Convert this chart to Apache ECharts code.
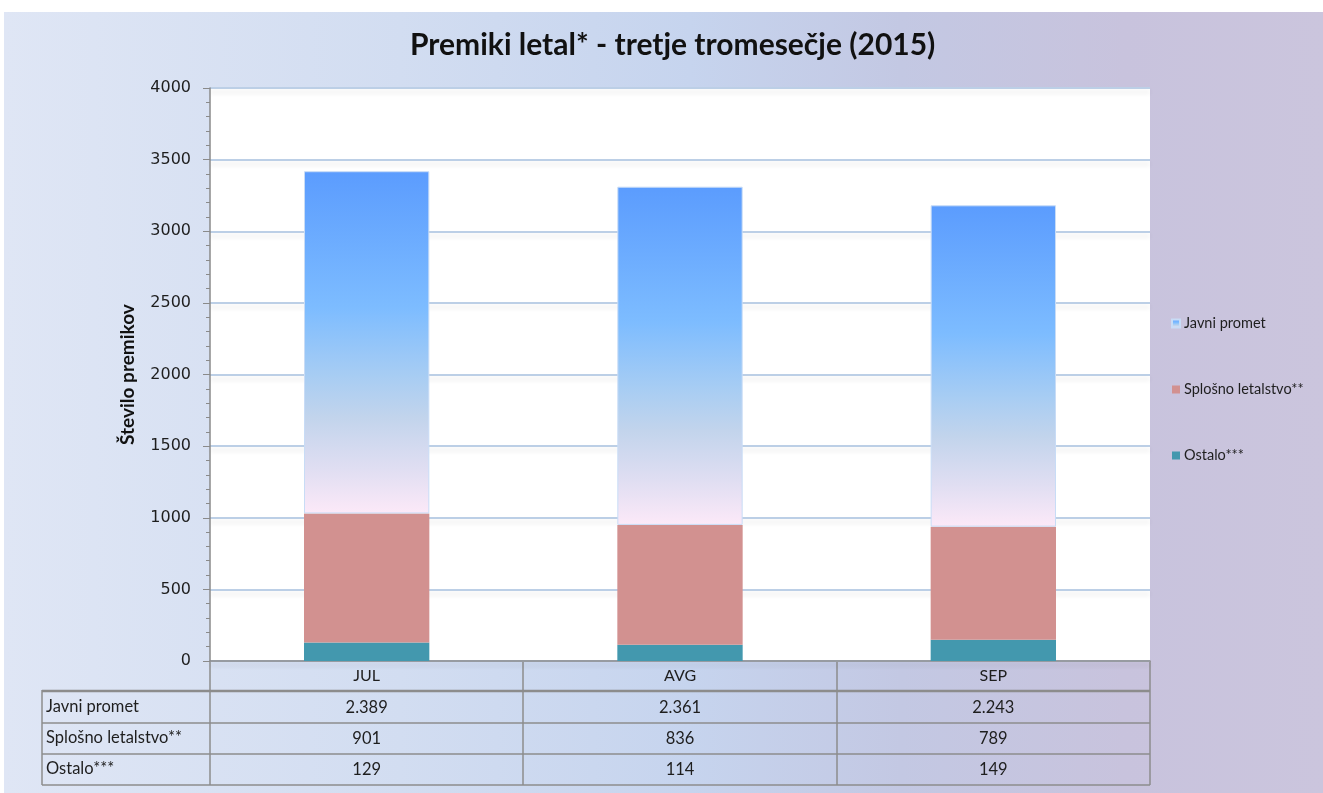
<!DOCTYPE html>
<html>
<head>
<meta charset="utf-8">
<script src="https://cdn.jsdelivr.net/npm/echarts@6/dist/echarts.min.js"></script>
<style>
  html, body { margin: 0; padding: 0; background: #fff; }
  #wrap { position: relative; width: 1323px; height: 793px; }
  #bg {
    position: absolute; left: 4px; top: 12px; right: 0; bottom: 0;
    background: linear-gradient(to right, #dfe6f5 0%, #d2ddf1 30%, #c6d4ee 52%, #c3c8e3 68%, #c8c3dd 85%, #cbc5dd 100%);
  }
  #chart { position: absolute; left: 0; top: 0; width: 1323px; height: 793px; }
</style>
</head>
<body>
<div id="wrap">
  <div id="bg"></div>
  <div id="chart"></div>
</div>
<script>
// chart data
const months = ['JUL', 'AVG', 'SEP'];
const javniPromet = [2389, 2361, 2243];
const splosnoLetalstvo = [901, 836, 789];
const ostalo = [129, 114, 149];
const seriesNames = ['Javni promet', 'Splošno letalstvo**', 'Ostalo***'];
const tableRows = [javniPromet, splosnoLetalstvo, ostalo];

// layout
const gridLeft = 210, gridRight = 1150, gridTop = 88, gridBottom = 661;
const rowH = 31;
const tableLeft = 42;

const chart = echarts.init(document.getElementById('chart'));

// thousands separator with a dot, as in the source
const fmt = v => v >= 1000 ? Math.floor(v / 1000) + '.' + String(v % 1000).padStart(3, '0') : String(v);

const javniColor = new echarts.graphic.LinearGradient(0, 0, 0, 1, [
  { offset: 0, color: '#5b9cfe' },
  { offset: 0.4, color: '#7dbcff' },
  { offset: 0.6, color: '#a8cdf3' },
  { offset: 0.72, color: '#c2d4ec' },
  { offset: 0.87, color: '#e0def2' },
  { offset: 1, color: '#fce9f8' }
]);

const tableFont = { fontFamily: 'Lato', fontSize: 16.5, color: '#1e1e1e' };

// extra category axes used as rows of the data table
const rowAxes = tableRows.map((row, i) => ({
  type: 'category',
  gridIndex: 0,
  position: 'bottom',
  offset: rowH * (i + 1),
  data: months,
  axisLine: { show: false },
  axisTick: { show: false },
  axisLabel: {
    ...tableFont,
    margin: 7,
    formatter: (val, idx) => fmt(row[idx])
  }
}));

// table borders
const lineStyle = { stroke: '#8c8c8c', lineWidth: 1.5 };
const graphics = [];
const hLine = (x1, x2, y, w) => graphics.push({ type: 'line', shape: { x1, y1: y, x2, y2: y }, style: { ...lineStyle, lineWidth: w || 1.5 }, silent: true });
const vLine = (x, y1, y2) => graphics.push({ type: 'line', shape: { x1: x, y1, x2: x, y2 }, style: lineStyle, silent: true });
hLine(tableLeft, gridRight, gridBottom + rowH - 1, 2.5);
for (let i = 2; i <= 4; i++) hLine(tableLeft, gridRight, gridBottom + rowH * i, 1.5);
vLine(tableLeft, gridBottom + rowH - 2, gridBottom + rowH * 4);
for (let i = 0; i <= 3; i++) {
  const x = Math.round(gridLeft + i * (gridRight - gridLeft) / 3);
  vLine(x, gridBottom, gridBottom + rowH * 4);
}
seriesNames.forEach((name, i) => {
  graphics.push({
    type: 'text',
    left: tableLeft + 4,
    top: gridBottom + rowH * (i + 1) + 6,
    style: { text: name, font: '16.5px Lato', fill: '#1e1e1e' },
    silent: true
  });
});

const option = {
  backgroundColor: 'transparent',
  animation: false,
  title: {
    text: 'Premiki letal* - tretje tromesečje (2015)',
    left: 405,
    top: 25,
    textStyle: { fontFamily: 'Lato', fontSize: 30, fontWeight: 'bold', color: '#111' }
  },
  legend: {
    orient: 'vertical',
    left: 1171,
    top: 316,
    padding: 0,
    itemGap: 51,
    itemWidth: 8,
    itemHeight: 8,
    icon: 'rect',
    data: seriesNames,
    textStyle: { fontFamily: 'Lato', fontSize: 14.5, color: '#1e1e1e', padding: [0, 0, 0, -1] }
  },
  grid: {
    left: gridLeft,
    top: gridTop,
    width: gridRight - gridLeft,
    height: gridBottom - gridTop,
    show: true,
    backgroundColor: '#ffffff',
    borderWidth: 0
  },
  xAxis: [{
    type: 'category',
    data: months,
    axisLine: { lineStyle: { color: '#8a8a8a', width: 1.5 } },
    axisTick: { show: false },
    axisLabel: { fontFamily: 'Lato', fontSize: 16, color: '#1e1e1e', margin: 7 }
  }, ...rowAxes],
  yAxis: {
    type: 'value',
    min: 0,
    max: 4000,
    interval: 500,
    name: 'Število premikov',
    nameLocation: 'middle',
    nameGap: 73,
    nameTextStyle: { fontFamily: 'Lato', fontSize: 19, fontWeight: 'bold', color: '#111' },
    axisLine: { show: true, lineStyle: { color: '#8a8a8a', width: 1.5 } },
    axisTick: { show: true, length: 7, lineStyle: { color: '#8a8a8a' } },
    minorTick: { show: true, splitNumber: 5, length: 4, lineStyle: { color: '#8a8a8a' } },
    axisLabel: { fontFamily: 'DejaVu Sans', fontSize: 16, color: '#1e1e1e', margin: 19, formatter: v => String(v) },
    splitLine: {
      lineStyle: {
        color: '#bccfe6', width: 2,
        shadowColor: 'rgba(0,0,0,0.10)', shadowBlur: 5, shadowOffsetY: 4
      }
    }
  },
  series: [
    {
      name: 'Ostalo***', type: 'bar', stack: 'total', barWidth: '40%',
      data: ostalo,
      itemStyle: { color: '#4398ae' }
    },
    {
      name: 'Splošno letalstvo**', type: 'bar', stack: 'total', barWidth: '40%',
      data: splosnoLetalstvo,
      itemStyle: { color: '#d29190' }
    },
    {
      name: 'Javni promet', type: 'bar', stack: 'total', barWidth: '40%',
      data: javniPromet,
      itemStyle: { color: javniColor, borderColor: '#c8dcf6', borderWidth: 1 }
    }
  ],
  graphic: graphics
};

chart.setOption(option);
window.addEventListener('resize', () => chart.resize());
</script>
</body>
</html>
